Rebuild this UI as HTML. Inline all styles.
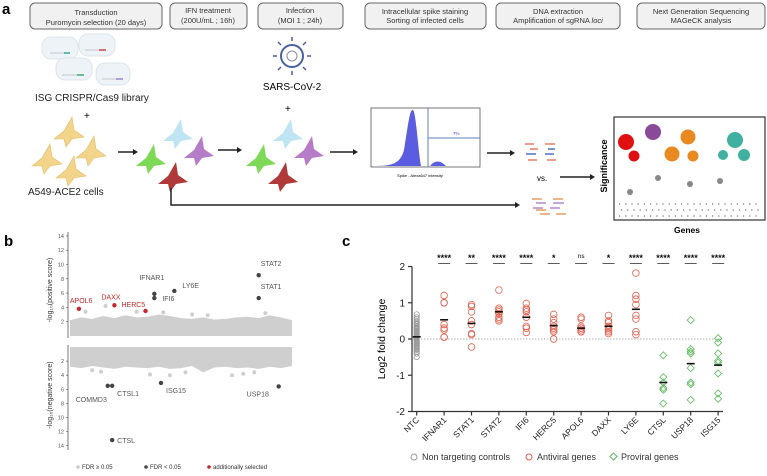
<!DOCTYPE html>
<html><head><meta charset="utf-8"><style>
body{margin:0;background:#fff;}
svg{display:block;font-family:"Liberation Sans",sans-serif;}
</style></head><body>
<svg width="767" height="476" viewBox="0 0 767 476">
<defs>
<g id="cellShape"><path d="M-14 6 L-4 -2 L4 -16 L6 -3 L16 4 L4 6 L-2 14 L-4 6 Z"/></g>
</defs>
<!-- PANEL A -->
<g>
<text x="2" y="14" font-size="15" font-weight="bold">a</text>
<g font-size="7.5" fill="#333" text-anchor="middle">
<rect x="30" y="3" width="132" height="26" rx="5" fill="#f1f1f1" stroke="#666"/>
<text x="96" y="15">Transduction</text><text x="96" y="25">Puromycin selection (20 days)</text>
<rect x="170" y="3" width="77" height="26" rx="5" fill="#f1f1f1" stroke="#666"/>
<text x="208" y="13">IFN treatment</text><text x="208" y="23">(200U/mL ; 16h)</text>
<rect x="258" y="3" width="85" height="26" rx="5" fill="#f1f1f1" stroke="#666"/>
<text x="300" y="13">Infection</text><text x="300" y="23">(MOI 1 ; 24h)</text>
<rect x="365" y="3" width="121" height="26" rx="5" fill="#f1f1f1" stroke="#666"/>
<text x="425" y="14">Intracellular spike staining</text><text x="425" y="23">Sorting of infected cells</text>
<rect x="496" y="3" width="124" height="26" rx="5" fill="#f1f1f1" stroke="#666"/>
<text x="558" y="14">DNA extraction</text><text x="558" y="23">Amplification of sgRNA <tspan font-style="italic">loci</tspan></text>
<rect x="637" y="3" width="128" height="26" rx="5" fill="#f1f1f1" stroke="#666"/>
<text x="701" y="14">Next Generation Sequencing</text><text x="701" y="23">MAGeCK analysis</text>
</g>
<g fill="#eef3f7" stroke="#d6e0e8" stroke-width="0.8">
<rect x="42" y="37" width="36" height="22" rx="9"/><rect x="79" y="34" width="36" height="22" rx="9"/>
<rect x="56" y="58" width="36" height="22" rx="9"/><rect x="96" y="63" width="34" height="22" rx="9"/>
</g>
<g stroke-width="1.5">
<path d="M50 53h18" stroke="#999" stroke-width="0.6"/><path d="M64 53h6" stroke="#3a9"/>
<path d="M85 50h18" stroke="#999" stroke-width="0.6"/><path d="M99 50h7" stroke="#c44"/>
<path d="M62 75h18" stroke="#999" stroke-width="0.6"/><path d="M77 75h7" stroke="#4a7"/>
<path d="M102 79h18" stroke="#999" stroke-width="0.6"/><path d="M116 79h7" stroke="#98c"/>
</g>
<text x="35" y="101" font-size="10" fill="#222">ISG CRISPR/Cas9 library</text>
<text x="84" y="119" font-size="10">+</text>
<g fill="#f2d58a" stroke="#e0bc68" stroke-width="0.6">
<use href="#cellShape" transform="translate(68 133)"/><use href="#cellShape" transform="translate(46 160)"/>
<use href="#cellShape" transform="translate(90 152)"/><use href="#cellShape" transform="translate(70 172)"/>
</g>
<text x="28" y="195" font-size="10" fill="#222">A549-ACE2 cells</text>
<g stroke-width="0">
<use href="#cellShape" transform="translate(177 135)" fill="#bfe4f3"/><use href="#cellShape" transform="translate(150 160)" fill="#7ed957"/>
<use href="#cellShape" transform="translate(198 152)" fill="#b77cc8"/><use href="#cellShape" transform="translate(172 178)" fill="#b03a3a"/>
</g>
<g>
<use href="#cellShape" transform="translate(287 135)" fill="#bfe4f3"/><use href="#cellShape" transform="translate(260 160)" fill="#7ed957"/>
<use href="#cellShape" transform="translate(308 152)" fill="#b77cc8"/><use href="#cellShape" transform="translate(282 178)" fill="#b03a3a"/>
</g>
<g>
<circle cx="292" cy="56" r="11" fill="#fff" stroke="#4a5fa0" stroke-width="2"/>
<path d="M292 41v-4M292 71v4M277 56h-4M307 56h4M281 45l-3-3M303 67l3 3M303 45l3-3M281 67l-3 3" stroke="#4a5fa0" stroke-width="1.5"/>
<circle cx="292" cy="56" r="5" fill="none" stroke="#88a" stroke-width="1"/>
</g>
<text x="292" y="90" font-size="10" text-anchor="middle">SARS-CoV-2</text>
<text x="285" y="112" font-size="10">+</text>
<g stroke="#222" stroke-width="1.5" fill="none">
<path d="M118 152 h16"/><path d="M218 150 h20"/><path d="M330 152 h24"/><path d="M487 153 h24"/><path d="M560 177 h31"/>
<path d="M171 188 v17 h344"/>
</g>
<g fill="#222">
<path d="M138 152 l-5 -3 v6z"/><path d="M242 150 l-5 -3 v6z"/><path d="M358 152 l-5 -3 v6z"/><path d="M515 153 l-5 -3 v6z"/><path d="M595 177 l-5 -3 v6z"/><path d="M520 205 l-5 -3 v6z"/>
</g>
<g>
<rect x="371" y="108" width="109" height="59" fill="#fff" stroke="#555" stroke-width="0.8"/>
<path d="M373 166 C390 166 400 165 404 150 C408 125 410 108 413 110 C416 112 418 150 421 166 Z" fill="#5a5de0"/>
<path d="M430 166 C435 160 440 160 446 166Z" fill="#5a5de0"/>
<line x1="428" y1="108" x2="428" y2="167" stroke="#6680c0"/><line x1="428" y1="138" x2="480" y2="138" stroke="#6680c0"/>
<text x="453" y="135" font-size="4.5" fill="#3a3dc0">7%</text>
<text x="420" y="177" font-size="4" text-anchor="middle">Spike - Alexa647 intensity</text>
</g>
<g stroke-width="1.3">
<path d="M525 144h9M545 144h10M530 149h8M528 160h9M547 160h9" stroke="#e06040"/>
<path d="M526 154h10M545 154h9M548 149h7" stroke="#3050b0"/>
<path d="M532 199h10M553 199h10M536 210h10M540 214h10M556 214h10" stroke="#e08a40"/>
<path d="M553 203h11M536 203h10M533 208h10M550 208h10" stroke="#a070c0"/>
</g>
<text x="537" y="181" font-size="8">vs.</text>
<g>
<rect x="614" y="117" width="151" height="103" fill="#fff" stroke="#333" stroke-width="1.2"/>
<text x="607" y="166" font-size="9" font-weight="bold" transform="rotate(-90 607 166)" text-anchor="middle">Significance</text>
<text x="687" y="233" font-size="8.5" font-weight="bold" text-anchor="middle">Genes</text>
<circle cx="626" cy="142" r="8" fill="#e01010"/><circle cx="634" cy="156" r="5.5" fill="#e01010"/>
<circle cx="653" cy="132" r="8" fill="#8a4a9a"/><circle cx="688" cy="137" r="7.5" fill="#e88a20"/><circle cx="672" cy="154" r="7.5" fill="#e88a20"/><circle cx="693" cy="156" r="5.5" fill="#e88a20"/>
<circle cx="735" cy="140" r="8" fill="#40b0a0"/><circle cx="723" cy="155" r="5" fill="#40b0a0"/><circle cx="744" cy="155" r="6" fill="#40b0a0"/>
<circle cx="658" cy="178" r="3" fill="#888"/><circle cx="690" cy="184" r="3" fill="#888"/><circle cx="720" cy="181" r="3" fill="#888"/><circle cx="630" cy="192" r="3" fill="#888"/>
<path d="M619 204h142M621 210h142M619 216h142" stroke="#888" stroke-width="1.4" stroke-dasharray="1.2 5"/>
</g>
</g>

<!-- PANEL B -->
<g>
<text x="4" y="246" font-size="15" font-weight="bold">b</text>
<g id="bAxes"></g>
<g id="bMarks"></g>
<g font-size="6" fill="#333">
<circle cx="78" cy="467" r="1.8" fill="#ccc"/><text x="82" y="469">FDR ≥ 0.05</text>
<circle cx="146" cy="467" r="1.8" fill="#444"/><text x="150" y="469">FDR &lt; 0.05</text>
<circle cx="209" cy="467" r="1.8" fill="#c62828"/><text x="213" y="469">additionally selected</text>
</g>
</g>

<!-- PANEL C -->
<g>
<text x="342" y="246" font-size="15" font-weight="bold">c</text>
<text x="0" y="0" font-size="10.5" text-anchor="middle" transform="translate(385 339) rotate(-90)">Log2 fold change</text>
<g id="cAxes"></g>
<g id="cMarks"></g>
<g font-size="9" fill="#333">
<circle cx="414" cy="457" r="3" fill="none" stroke="#999"/><text x="422" y="460">Non targeting controls</text>
<circle cx="529" cy="457" r="3" fill="none" stroke="#e06050"/><text x="537" y="460">Antiviral genes</text>
<rect x="611" y="454" width="5" height="5" fill="none" stroke="#5cb85c" transform="rotate(45 613.5 456.5)"/><text x="621" y="460">Proviral genes</text>
</g>
</g>
</svg>
<script>
// ===== Panel B data =====
const bTicks = [2,4,6,8,10,12,14];
const bLabelGenes = ["APOL6","DAXX","HERC5","IFNAR1","IFI6","LY6E","STAT2","STAT1"];
const bLabelPos = [0.04,0.20,0.34,0.38,0.38,0.47,0.85,0.85];
const bLabelScore = [3.8,4.3,3.5,5.9,5.3,6.3,8.5,5.3];
const bLabelType = ["red","red","red","dark","dark","dark","dark","dark"];
const bNegGenes = ["COMMD3","CTSL1","ISG15","USP18","CTSL"];
const bNegPos = [0.17,0.19,0.41,0.94,0.19];
const bNegScore = [5.5,5.5,5.1,5.6,13.2];
const bGrayPos = [0.07,0.16,0.30,0.42,0.55,0.62,0.88,0.10,0.14,0.36,0.45,0.52,0.73,0.78,0.83];
const bGrayScore = [3.4,4.2,3.4,3.3,3.0,2.9,3.2,-3.3,-3.5,-3.9,-4.0,-3.6,-4.0,-3.8,-3.6];
// cloud envelope heights (upper edge of the dense gray cloud) along x
const bCloudPos = [0,0.05,0.1,0.15,0.2,0.25,0.3,0.35,0.4,0.45,0.5,0.55,0.6,0.65,0.7,0.75,0.8,0.85,0.9,0.95,1];
const bCloudTop = [2.2,2.6,2.4,2.8,2.5,2.9,2.6,2.7,3.0,2.8,2.5,2.4,2.6,2.3,2.4,2.6,2.7,2.5,2.9,2.6,2.2];
const bCloudBot = [2.8,3.0,2.7,2.9,3.1,2.8,2.9,3.0,2.8,3.1,3.0,2.7,3.6,2.9,2.8,3.0,2.9,3.1,2.8,3.0,2.7];
// ===== Panel C data =====
const cCats = ["NTC","IFNAR1","STAT1","STAT2","IFI6","HERC5","APOL6","DAXX","LY6E","CTSL","USP18","ISG15"];
const cType = ["ntc","anti","anti","anti","anti","anti","anti","anti","anti","pro","pro","pro"];
const cStars = ["","****","**","****","****","*","ns","*","****","****","****","****"];
const cYTicks = [-2,-1,0,1,2];
const vNTC = [0.68,0.6,0.55,0.5,0.45,0.42,0.4,0.35,0.32,0.3,0.28,0.25,0.22,0.2,0.18,0.15,0.12,0.1,0.08,0.05,0.02,0,-0.02,-0.05,-0.08,-0.1,-0.12,-0.15,-0.18,-0.2,-0.22,-0.25,-0.28,-0.3,-0.35,-0.4,-0.5];
const vIFNAR1 = [1.2,1.0,1.0,0.4,0.3,0.25,0.05,0.05];
const vSTAT1 = [0.95,0.9,0.75,0.5,0.4,0.15,0.12,-0.22];
const vSTAT2 = [1.35,0.85,0.8,0.75,0.7,0.6,0.55,0.5];
const vIFI6 = [0.98,0.85,0.8,0.75,0.6,0.35,0.3,0.18];
const vHERC5 = [0.68,0.55,0.45,0.35,0.3,0.25,0.2,0.0];
const vAPOL6 = [0.6,0.55,0.35,0.3,0.3,0.25,0.2,0.2];
const vDAXX = [0.65,0.5,0.45,0.35,0.3,0.25,0.2,0.15];
const vLY6E = [1.82,1.2,1.1,0.95,0.65,0.55,0.2,0.12];
const vCTSL = [-0.45,-1.05,-1.2,-1.35,-1.4,-1.78];
const vUSP18 = [0.52,-0.28,-0.35,-0.4,-0.8,-1.2,-1.25,-1.68];
const vISG15 = [0.02,-0.1,-0.4,-0.6,-0.65,-0.95,-1.5,-1.65];
const cMeans = [0.06,0.53,0.43,0.75,0.6,0.37,0.3,0.35,0.82,-1.2,-0.68,-0.72];
const cValues = [vNTC,vIFNAR1,vSTAT1,vSTAT2,vIFI6,vHERC5,vAPOL6,vDAXX,vLY6E,vCTSL,vUSP18,vISG15];

const NS="http://www.w3.org/2000/svg";
function mk(parent,tag,attrs,text){const e=document.createElementNS(NS,tag);for(const k in attrs)e.setAttribute(k,attrs[k]);if(text!==undefined)e.textContent=text;parent.appendChild(e);return e;}

// ---- Panel B ----
const bx=p=>70+p*222;
const byTop=v=>336-v*7.15;
const byBot=v=>347+v*7.05;
const bA=document.getElementById('bAxes');
const bM=document.getElementById('bMarks');
let ax=mk(bA,'line',{x1:68,y1:232,x2:68,y2:338,stroke:'#555','stroke-width':0.8});


ax=mk(bA,'line',{x1:68,y1:345,x2:68,y2:450,stroke:'#555','stroke-width':0.8});


bTicks.forEach(t=>{
  let y=byTop(t);mk(bA,'line',{x1:66,y1:y,x2:68,y2:y,stroke:'#555','stroke-width':0.6});
  let tx=mk(bA,'text',{x:64,y:y+2,'font-size':5.5,'text-anchor':'end',fill:'#555'},t);
  
  
  y=byBot(t);mk(bA,'line',{x1:66,y1:y,x2:68,y2:y,stroke:'#555','stroke-width':0.6});
  tx=mk(bA,'text',{x:64,y:y+2,'font-size':5.5,'text-anchor':'end',fill:'#555'},t);
  
  
});
let t1=mk(bA,'text',{x:0,y:0,'font-size':7,'text-anchor':'middle',fill:'#333',transform:'translate(52 290) rotate(-90)'},'-log\u2081\u2080(positive score)');


t1=mk(bA,'text',{x:0,y:0,'font-size':7,'text-anchor':'middle',fill:'#333',transform:'translate(52 395) rotate(-90)'},'-log\u2081\u2080(negative score)');


// gray clouds
let dTop=`M${bx(0)} ${byTop(0)}`;bCloudPos.forEach((p,i)=>{dTop+=` L${bx(p)} ${byTop(bCloudTop[i])}`;});dTop+=` L${bx(1)} ${byTop(0)}Z`;
let band=mk(bM,'path',{d:dTop,fill:'#cfcfcf'});


let dBot=`M${bx(0)} ${byBot(0)}`;bCloudPos.forEach((p,i)=>{dBot+=` L${bx(p)} ${byBot(bCloudBot[i])}`;});dBot+=` L${bx(1)} ${byBot(0)}Z`;
band=mk(bM,'path',{d:dBot,fill:'#cfcfcf'});


bGrayPos.forEach((p,i)=>{
  const v=bGrayScore[i];const y=v>0?byTop(v):byBot(-v);
  const c=mk(bM,'circle',{cx:bx(p),cy:y,r:2,fill:'#cfcfcf'});
  
  
});
bLabelGenes.forEach((g,i)=>{
  const x=bx(bLabelPos[i]),y=byTop(bLabelScore[i]);const col=bLabelType[i]==='red'?'#c62828':'#444';
  const c=mk(bM,'circle',{cx:x,cy:y,r:2.2,fill:col});
  
  
  let lx=x+8,ly=y-3;
  if(g==='APOL6'){lx=x-9;ly=y-6;}
  if(g==='DAXX'){lx=x-13;ly=y-6;}
  if(g==='HERC5'){lx=x-24;ly=y-4;}
  if(g==='IFNAR1'){lx=x-15;ly=y-14;}
  if(g==='IFI6'){lx=x+8;ly=y+3;}
  if(g==='STAT2'){lx=x+2;ly=y-9;}
  if(g==='STAT1'){lx=x+2;ly=y-9;}
  const t=mk(bM,'text',{x:lx,y:ly,'font-size':7,fill:bLabelType[i]==='red'?'#c62828':'#555'},g);
  
  
});
bNegGenes.forEach((g,i)=>{
  const x=bx(bNegPos[i]),y=byBot(bNegScore[i]);
  const c=mk(bM,'circle',{cx:x,cy:y,r:2.2,fill:'#444'});
  
  
  let lx=x+5,ly=y+10;
  if(g==='COMMD3'){lx=x-32;ly=y+16;}
  if(g==='USP18'){lx=x-32;ly=y+10;}
  if(g==='CTSL'){lx=x+5;ly=y+3;}
  const t=mk(bM,'text',{x:lx,y:ly,'font-size':7,fill:'#555'},g);
  
  
});

// ---- Panel C ----
const cx0=416.7, cdx=27.4;
const cxs=i=>cx0+i*cdx;
const cy=v=>339-v*36.25;
const cA=document.getElementById('cAxes');
const cM=document.getElementById('cMarks');
ax=mk(cA,'line',{x1:412,y1:cy(2),x2:412,y2:cy(-2),stroke:'#333','stroke-width':1.2});


ax=mk(cA,'line',{x1:412,y1:cy(-2),x2:723,y2:cy(-2),stroke:'#333','stroke-width':1.2});


ax=mk(cA,'line',{x1:412,y1:cy(0),x2:723,y2:cy(0),stroke:'#999','stroke-width':0.8,'stroke-dasharray':'1.5 1.5'});


cYTicks.forEach(t=>{
  mk(cA,'line',{x1:408,y1:cy(t),x2:412,y2:cy(t),stroke:'#333','stroke-width':1.2});
  const tx=mk(cA,'text',{x:405,y:cy(t)+3.5,'font-size':10,'text-anchor':'end',fill:'#222'},t);
  
  
});
cCats.forEach((c,i)=>{
  const x=cxs(i);
  mk(cA,'line',{x1:x,y1:cy(-2),x2:x,y2:cy(-2)+4,stroke:'#333','stroke-width':1.2});
  const tx=mk(cA,'text',{x:0,y:0,'font-size':8.5,'text-anchor':'end',fill:'#222',transform:`translate(${x+3} ${cy(-2)+9}) rotate(-45)`},c);
  
  
  const vals=cValues[i];const typ=cType[i];
  vals.forEach(v=>{
    let m;
    if(typ==='pro'){m=mk(cM,'rect',{x:x-2.5,y:cy(v)-2.5,width:5,height:5,fill:'none',stroke:'#5cb85c','stroke-width':0.8,transform:`rotate(45 ${x} ${cy(v)})`});}
    else{m=mk(cM,'circle',{cx:x,cy:cy(v),r:typ==='ntc'?2.6:3.3,fill:'none',stroke:typ==='ntc'?'#999':'#e06050','stroke-width':0.8});}
    
    
  });
  const mn=mk(cM,'line',{x1:x-4,y1:cy(cMeans[i]),x2:x+4,y2:cy(cMeans[i]),stroke:'#111','stroke-width':1.6});
  
  
  if(cStars[i]){
    const st=mk(cM,'text',{x:x,y:cStars[i]==='ns'?258:261,'font-size':cStars[i]==='ns'?6:9,'font-weight':'bold','text-anchor':'middle',fill:cStars[i]==='ns'?'#555':'#111'},cStars[i]);
    
    
    const ul=mk(cM,'line',{x1:x-6,y1:263.5,x2:x+6,y2:263.5,stroke:'#333','stroke-width':0.8});
    
    
  }
});
</script>
</body></html>
